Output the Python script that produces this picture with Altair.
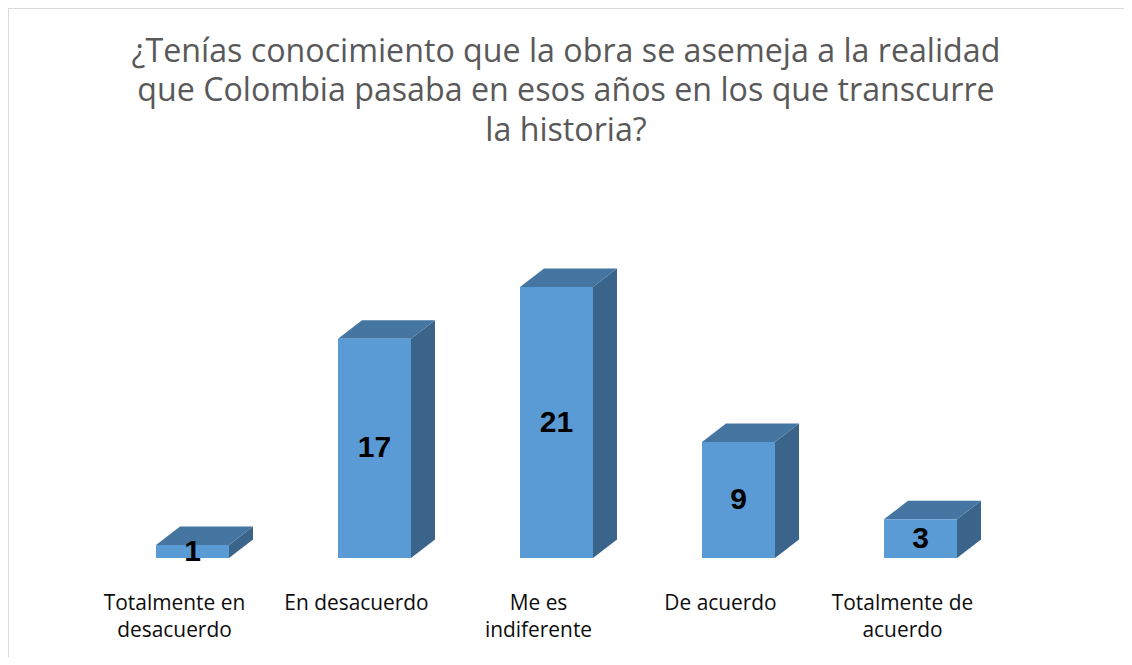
import altair as alt
import pandas as pd

# ---- data ----
categories = ["Totalmente en desacuerdo", "En desacuerdo", "Me es indiferente",
              "De acuerdo", "Totalmente de acuerdo"]
label_lines = [["Totalmente en", "desacuerdo"], ["En desacuerdo"], ["Me es", "indiferente"],
               ["De acuerdo"], ["Totalmente de", "acuerdo"]]
values = [1, 17, 21, 9, 3]
title_lines = ["¿Tenías conocimiento que la obra se asemeja a la realidad",
               "que Colombia pasaba en esos años en los que transcurre",
               "la historia?"]

# ---- layout / style constants ----
W, H = 1116, 649            # whole chart area
STEP = 182.0                # px per category
X0 = 184.5                  # px of first category's front-face centre
PXU = 12.9                  # px per value unit
ZERO_Y = 550.0              # px of the value 0 baseline
HW = 36.5 / STEP            # half bar width (category units)
DX = 24.0 / STEP            # 3-D depth, horizontal
DY = 18.5 / PXU             # 3-D depth, vertical
LABEL_SHIFT = 18.0 / STEP

XD = [-X0 / STEP, (W - X0) / STEP]
YD = [-(H - ZERO_Y) / PXU, ZERO_Y / PXU]

FRONT, TOP, SIDE = "#5b9bd5", "#4575a1", "#3a6489"
BORDER = "#d9d9d9"

# ---- tables built from the arrays ----
front = pd.DataFrame({
    "cat": categories,
    "i": list(range(len(categories))),
    "v": values,
})
front["xl"] = front["i"] - HW
front["xr"] = front["i"] + HW
front["zero"] = 0.0
front["mid"] = front["v"] / 2
front["lx"] = front["i"] - LABEL_SHIFT
front["label"] = ["\n".join(l) for l in label_lines]

top_rows, side_rows = [], []
for i, (c, v) in enumerate(zip(categories, values)):
    top_rows.append({"cat": c, "yy": v, "xa": i - HW, "xb": i + HW})
    top_rows.append({"cat": c, "yy": v + DY, "xa": i - HW + DX, "xb": i + HW + DX})
    side_rows.append({"cat": c, "xx": i + HW, "ya": 0.0, "yb": v})
    side_rows.append({"cat": c, "xx": i + HW + DX, "ya": DY, "yb": v + DY})
top = pd.DataFrame(top_rows)
side = pd.DataFrame(side_rows)
title_df = pd.DataFrame({"t": ["\n".join(title_lines)]})

xs = alt.Scale(domain=XD, nice=False, zero=False)
ys = alt.Scale(domain=YD, nice=False, zero=False)

side_layer = alt.Chart(side).mark_area(orient="vertical", color=SIDE).encode(
    x=alt.X("xx:Q", scale=xs, axis=None),
    y=alt.Y("ya:Q", scale=ys, axis=None),
    y2="yb:Q",
    detail="cat:N",
)

top_layer = alt.Chart(top).mark_area(orient="horizontal", color=TOP).encode(
    y=alt.Y("yy:Q", scale=ys, axis=None),
    x=alt.X("xa:Q", scale=xs, axis=None),
    x2="xb:Q",
    detail="cat:N",
)

front_layer = alt.Chart(front).mark_rect(color=FRONT).encode(
    x=alt.X("xl:Q", scale=xs, axis=None),
    x2="xr:Q",
    y=alt.Y("zero:Q", scale=ys, axis=None),
    y2="v:Q",
)

value_layer = alt.Chart(front).mark_text(
    font="Liberation Sans", fontWeight="bold", fontSize=30, color="#000000",
    align="center", baseline="middle",
).encode(
    x=alt.X("i:Q", scale=xs, axis=None),
    y=alt.Y("mid:Q", scale=ys, axis=None),
    text="v:Q",
)

label_layer = alt.Chart(front).mark_text(
    font="Open Sans", fontSize=20.9, color="#0d0d0d", align="center",
    baseline="alphabetic", lineBreak="\n", lineHeight=27,
).encode(
    x=alt.X("lx:Q", scale=xs, axis=None),
    y=alt.value(602),
    text="label:N",
)

title_layer = alt.Chart(title_df).mark_text(
    font="Open Sans", fontSize=32.2, color="#595959", align="center",
    baseline="alphabetic", lineBreak="\n", lineHeight=39.7,
).encode(
    x=alt.value(558),
    y=alt.value(53.7),
    text="t:N",
)

# chart frame: only the top and left edges are visible in the reference
top_edge = alt.Chart(title_df).mark_rule(color=BORDER, strokeWidth=2).encode(
    x=alt.value(0), x2=alt.value(W), y=alt.value(0),
)
left_edge = alt.Chart(title_df).mark_rule(color=BORDER, strokeWidth=2).encode(
    x=alt.value(0), y=alt.value(0), y2=alt.value(H),
)

chart = alt.layer(
    top_edge, left_edge,
    side_layer, top_layer, front_layer, value_layer, label_layer, title_layer,
).properties(
    width=W, height=H, padding=0, autosize="none", background="white",
).configure_view(
    strokeWidth=0,
)

chart.save("out.html", embed_options={"renderer": "svg", "actions": False})
